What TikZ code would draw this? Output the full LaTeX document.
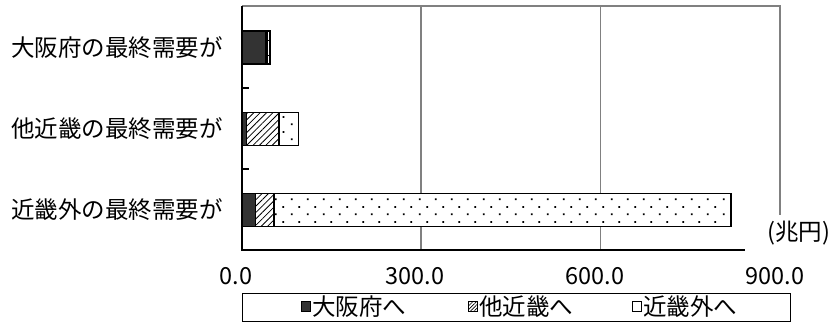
\documentclass[tikz,border=0pt]{standalone}
\usepackage{fontspec}
\setmainfont{Noto Sans CJK JP}
\usetikzlibrary{patterns.meta,positioning}

\definecolor{darkbar}{HTML}{333333}
\definecolor{gridgray}{HTML}{808080}

% sparse dot tile for the outside-Kinki share
\tikzdeclarepattern{
  name=sparsedots, type=uncolored,
  bounding box={(0pt,0pt) and (16pt,15pt)},
  tile size={(16pt,15pt)},
  code={
    \fill (3pt,3pt) rectangle (4.8pt,4.8pt);
    \fill (11pt,10.5pt) rectangle (12.8pt,12.3pt);
  }
}

\tikzset{
  osaka/.style={draw=black, line width=1.3pt, fill=darkbar},
  kinki/.style={draw=black, line width=1.3pt, preaction={fill=white},
    pattern={Lines[angle=45,distance=4.5pt,line width=0.8pt]}},
  outer/.style={draw=black, line width=1.3pt, preaction={fill=white},
    pattern=sparsedots},
  gridline/.style={draw=gridgray, line width=1.6pt},
  axisline/.style={draw=black, line width=1.6pt},
  lbl/.style={inner sep=0pt, font=\fontsize{23.5}{26}\selectfont},
  keybox/.style={draw=black, line width=1pt, minimum size=9.5pt, inner sep=0pt},
}

\begin{document}
\begin{tikzpicture}[x=1pt, y=-1pt]
  \useasboundingbox (0,0) rectangle (831,322);

  % frame and grid (0 -> 242, 900 -> 780)
  \coordinate (O) at (242,250);
  \coordinate (TL) at (242,6);
  \coordinate (TR) at (780,6);
  \coordinate (BR) at (780,250);
  \coordinate (G3t) at (421,6);
  \coordinate (G3b) at (421,250);
  \coordinate (G6t) at (600.5,6);
  \coordinate (G6b) at (600.5,250);

  \draw[gridline] (G3t) -- (G3b);
  \draw[gridline] (G6t) -- (G6b);
  \draw[gridline] (TL) -- (TR) -- (BR);

  % bars: centre / to Osaka / + other Kinki / total
  \def\xs{0.5977}
  \foreach \y/\a/\b/\c in {47.5/40/43/47, 129/8/62/95, 210/22/53.5/818}{
    \draw[osaka] (242,\y-16.5) rectangle ({242+\xs*\a},\y+16.5);
    \draw[kinki] ({242+\xs*\a},\y-16.5) rectangle ({242+\xs*\b},\y+16.5);
    \draw[outer] ({242+\xs*\b},\y-16.5) rectangle ({242+\xs*\c},\y+16.5);
  }

  \draw[axisline] (TL) -- (O) -- (BR);
  \foreach \y in {88, 169}
    \draw[black, line width=1.2pt] (242,\y) -- (249,\y);

  % category labels
  \node[lbl, anchor=east] (c1) at (223,47.5) {大阪府の最終需要が};
  \node[lbl, anchor=east] (c2) at (223,129) {他近畿の最終需要が};
  \node[lbl, anchor=east] (c3) at (223,210) {近畿外の最終需要が};

  % unit label covers the corner
  \node[lbl, anchor=west, fill=white, inner xsep=22pt, minimum height=37pt] (unit) at (745,233) {(兆円)};

  % value axis labels
  \node[lbl] (v0) at (236,276) {0.0};
  \node[lbl] (v3) at (415,276) {300.0};
  \node[lbl] (v6) at (595,276) {600.0};
  \node[lbl] (v9) at (775,276) {900.0};

  % legend
  \draw[black, line width=1pt] (242,293) rectangle (790,321);
  \node[keybox, fill=darkbar] (k1) at (306,306.5) {};
  \node[lbl, right=1pt of k1] (t1) {大阪府へ};
  \node[keybox, pattern={Lines[angle=45,distance=2.5pt,line width=0.6pt]}] (k2) at (473,306.5) {};
  \node[lbl, right=1pt of k2] (t2) {他近畿へ};
  \node[keybox, fill=white] (k3) at (637,306.5) {};
  \node[lbl, right=1pt of k3] (t3) {近畿外へ};
\end{tikzpicture}
\end{document}
